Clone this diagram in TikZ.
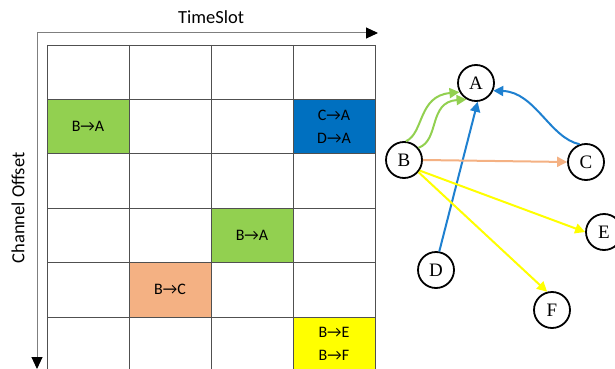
\documentclass[tikz,border=0pt]{standalone}
\usepackage{fontspec}
\setmainfont{Carlito}
\newfontfamily\tnr{Liberation Serif}
\usetikzlibrary{arrows.meta}
\definecolor{cgreen}{HTML}{92D050}
\definecolor{cblue}{HTML}{0070C0}
\definecolor{cpeach}{HTML}{F4B183}
\definecolor{cyellow}{HTML}{FFFF00}
\definecolor{eblue}{HTML}{1E80D0}
\definecolor{gline}{HTML}{7F7F7F}
\definecolor{gridc}{HTML}{505050}
\begin{document}
\begin{tikzpicture}[x=1pt,y=-1pt,
  cell/.style={minimum width=82pt, minimum height=54.4pt, inner sep=0pt, font=\fontsize{16}{23}\selectfont, align=center},
  vnode/.style={circle, draw=black, line width=1.8pt, minimum size=36pt, inner sep=0pt, font=\tnr\fontsize{19}{20}\selectfont},
  edge/.style={line width=2pt, -{Triangle[length=10pt,width=10pt]}},
  axis/.style={draw=gline, line width=1pt, -{Triangle[length=12pt,width=11pt,color=black]}},
  lbl/.style={font=\fontsize{18.5}{20}\selectfont}
]
\useasboundingbox (0,0) rectangle (615,369);
\clip (0,0) rectangle (615,369);
% axes
\coordinate (O) at (37,33);
\coordinate (Xend) at (378,33);
\coordinate (Yend) at (37,369);
\draw[axis] (O) -- (Xend);
\draw[axis] (O) -- (Yend);
\node[lbl] (ts) at (211,17) {TimeSlot};
\node[lbl, rotate=90] (co) at (18,208) {Channel Offset};
% coloured cells
\node[cell, fill=cgreen] (c1) at (88,126.6) {B→A};
\node[cell, fill=cblue] (c2) at (334,126.6) {C→A\\D→A};
\node[cell, fill=cgreen] (c3) at (252,235.4) {B→A};
\node[cell, fill=cpeach] (c4) at (170,289.8) {B→C};
\node[cell, fill=cyellow] (c5) at (334,344.2) {B→E\\B→F};
% grid
\foreach \x in {47,129,211,293,375} \draw[gridc, line width=0.9pt] (\x,45) -- (\x,372);
\foreach \y in {45,99.4,153.8,208.2,262.6,317} \draw[gridc, line width=0.9pt] (47,\y) -- (375,\y);
% graph
\node[vnode] (A) at (476,83) {A};
\node[vnode] (B) at (404,160) {B};
\node[vnode] (C) at (586,162) {C};
\node[vnode] (D) at (436,270) {D};
\node[vnode] (E) at (604,232) {E};
\node[vnode] (F) at (552,310) {F};
\draw[edge, cgreen] (B.84) .. controls (424,133) and (418,96) .. (A.209);
\draw[edge, cgreen] (B.40) .. controls (440,140) and (428,102) .. (A.240);
\draw[edge, eblue] (C.110) .. controls (550,138) and (535,92) .. (A.-24);
\draw[edge, eblue] (D.80) -- (A.275);
\draw[edge, cpeach] (B.east) -- (C.west);
\draw[edge, cyellow] (B.-34) -- (E.180);
\draw[edge, cyellow] (B.-40) -- (F.105);
\end{tikzpicture}
\end{document}
